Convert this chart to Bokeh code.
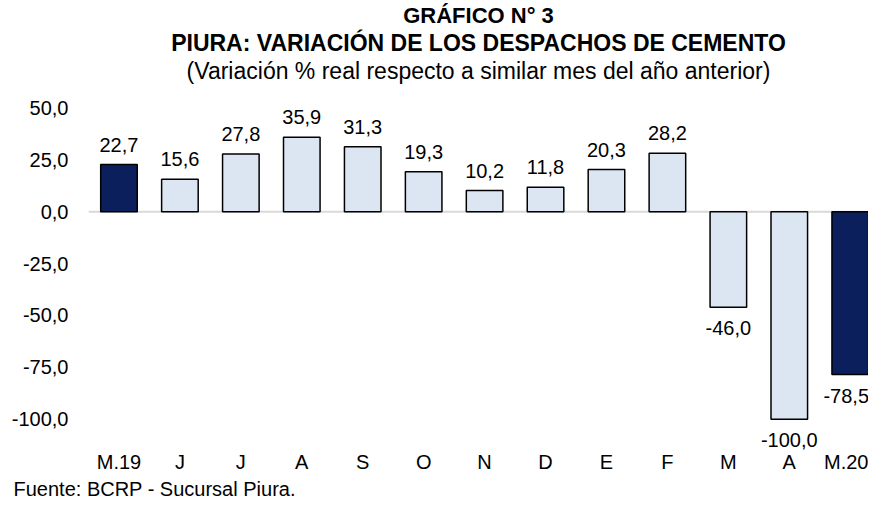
from bokeh.plotting import figure
from bokeh.models import (ColumnDataSource, Range1d, FixedTicker, Span, Title, LabelSet)
from bokeh.core.properties import value
from bokeh.embed import file_html
from bokeh.resources import INLINE

# ---- data ----
months = ["M.19", "J", "J", "A", "S", "O", "N", "D", "E", "F", "M", "A", "M.20"]
values = [22.7, 15.6, 27.8, 35.9, 31.3, 19.3, 10.2, 11.8, 20.3, 28.2, -46.0, -100.0, -78.5]
highlight = [True, False, False, False, False, False, False, False, False, False, False, False, True]
y_ticks = [-100, -75, -50, -25, 0, 25, 50]

title1 = "GRÁFICO N° 3"
title2 = "PIURA: VARIACIÓN DE LOS DESPACHOS DE CEMENTO"
title3 = "(Variación % real respecto a similar mes del año anterior)"
source_note = "Fuente: BCRP - Sucursal Piura."

DARK = "#0B1F5C"
LIGHT = "#DCE6F2"
FONT = "Liberation Sans"

def fmt(v):
    return f"{v:.1f}".replace(".", ",")

xs = list(range(len(months)))
n = len(months)
src = ColumnDataSource(dict(
    x=xs,
    top=values,
    color=[DARK if h else LIGHT for h in highlight],
    label=[fmt(v) for v in values],
    yoff=[20 if v >= 0 else -21 for v in values],
    xoff=[-4 if i == n - 1 else 0 for i in range(n)],
))

p = figure(width=868, height=499, output_backend="svg", toolbar_location=None,
           x_range=Range1d(-0.5, 12.3), y_range=Range1d(-115.1, 61.8),
           title=title1, min_border_left=88, min_border_right=0,
           min_border_top=0, min_border_bottom=0)
p.title.align = "center"
p.title.text_font = FONT
p.title.text_font_size = "22px"
p.title.text_font_style = "bold"
p.title.text_color = "black"
p.title.standoff = 0
p.add_layout(Title(text=title3, align="center", text_font=FONT, text_font_size="23px",
                   text_font_style="normal", text_color="black", standoff=0), "above")
p.add_layout(Title(text=title2, align="center", text_font=FONT, text_font_size="23px",
                   text_font_style="bold", text_color="black", standoff=0), "above")
p.add_layout(Title(text=source_note, align="left", text_font=FONT, text_font_size="20px",
                   text_font_style="normal", text_color="black", offset=-75, standoff=0), "below")

p.outline_line_color = None
p.xgrid.grid_line_color = None
p.ygrid.grid_line_color = None

zero = Span(location=0, dimension="width", line_color="#D9D9D9", line_width=2, level="underlay")
p.add_layout(zero)

p.vbar(x="x", top="top", bottom=0, width=0.6, fill_color="color", line_color="black",
       line_width=1.5, source=src)

labels = LabelSet(x="x", y="top", text="label", y_offset="yoff", x_offset="xoff", source=src,
                  text_align="center", text_baseline="middle", text_font=value(FONT),
                  text_font_size=value("20px"), text_color="black")
p.add_layout(labels)

p.xaxis.ticker = FixedTicker(ticks=xs)
p.xaxis.major_label_overrides = {i: m for i, m in enumerate(months)}
p.yaxis.ticker = FixedTicker(ticks=y_ticks)
p.yaxis.major_label_overrides = {t: fmt(t) for t in y_ticks}
for ax in (p.xaxis[0], p.yaxis[0]):
    ax.axis_line_color = None
    ax.major_tick_line_color = None
    ax.minor_tick_line_color = None
    ax.major_tick_out = 0
    ax.major_tick_in = 0
    ax.major_label_text_font = FONT
    ax.major_label_text_font_size = "20px"
    ax.major_label_text_color = "black"
p.yaxis.major_label_standoff = 20
p.xaxis.major_label_standoff = 0

open("out.html", "w").write(file_html(p, INLINE))
